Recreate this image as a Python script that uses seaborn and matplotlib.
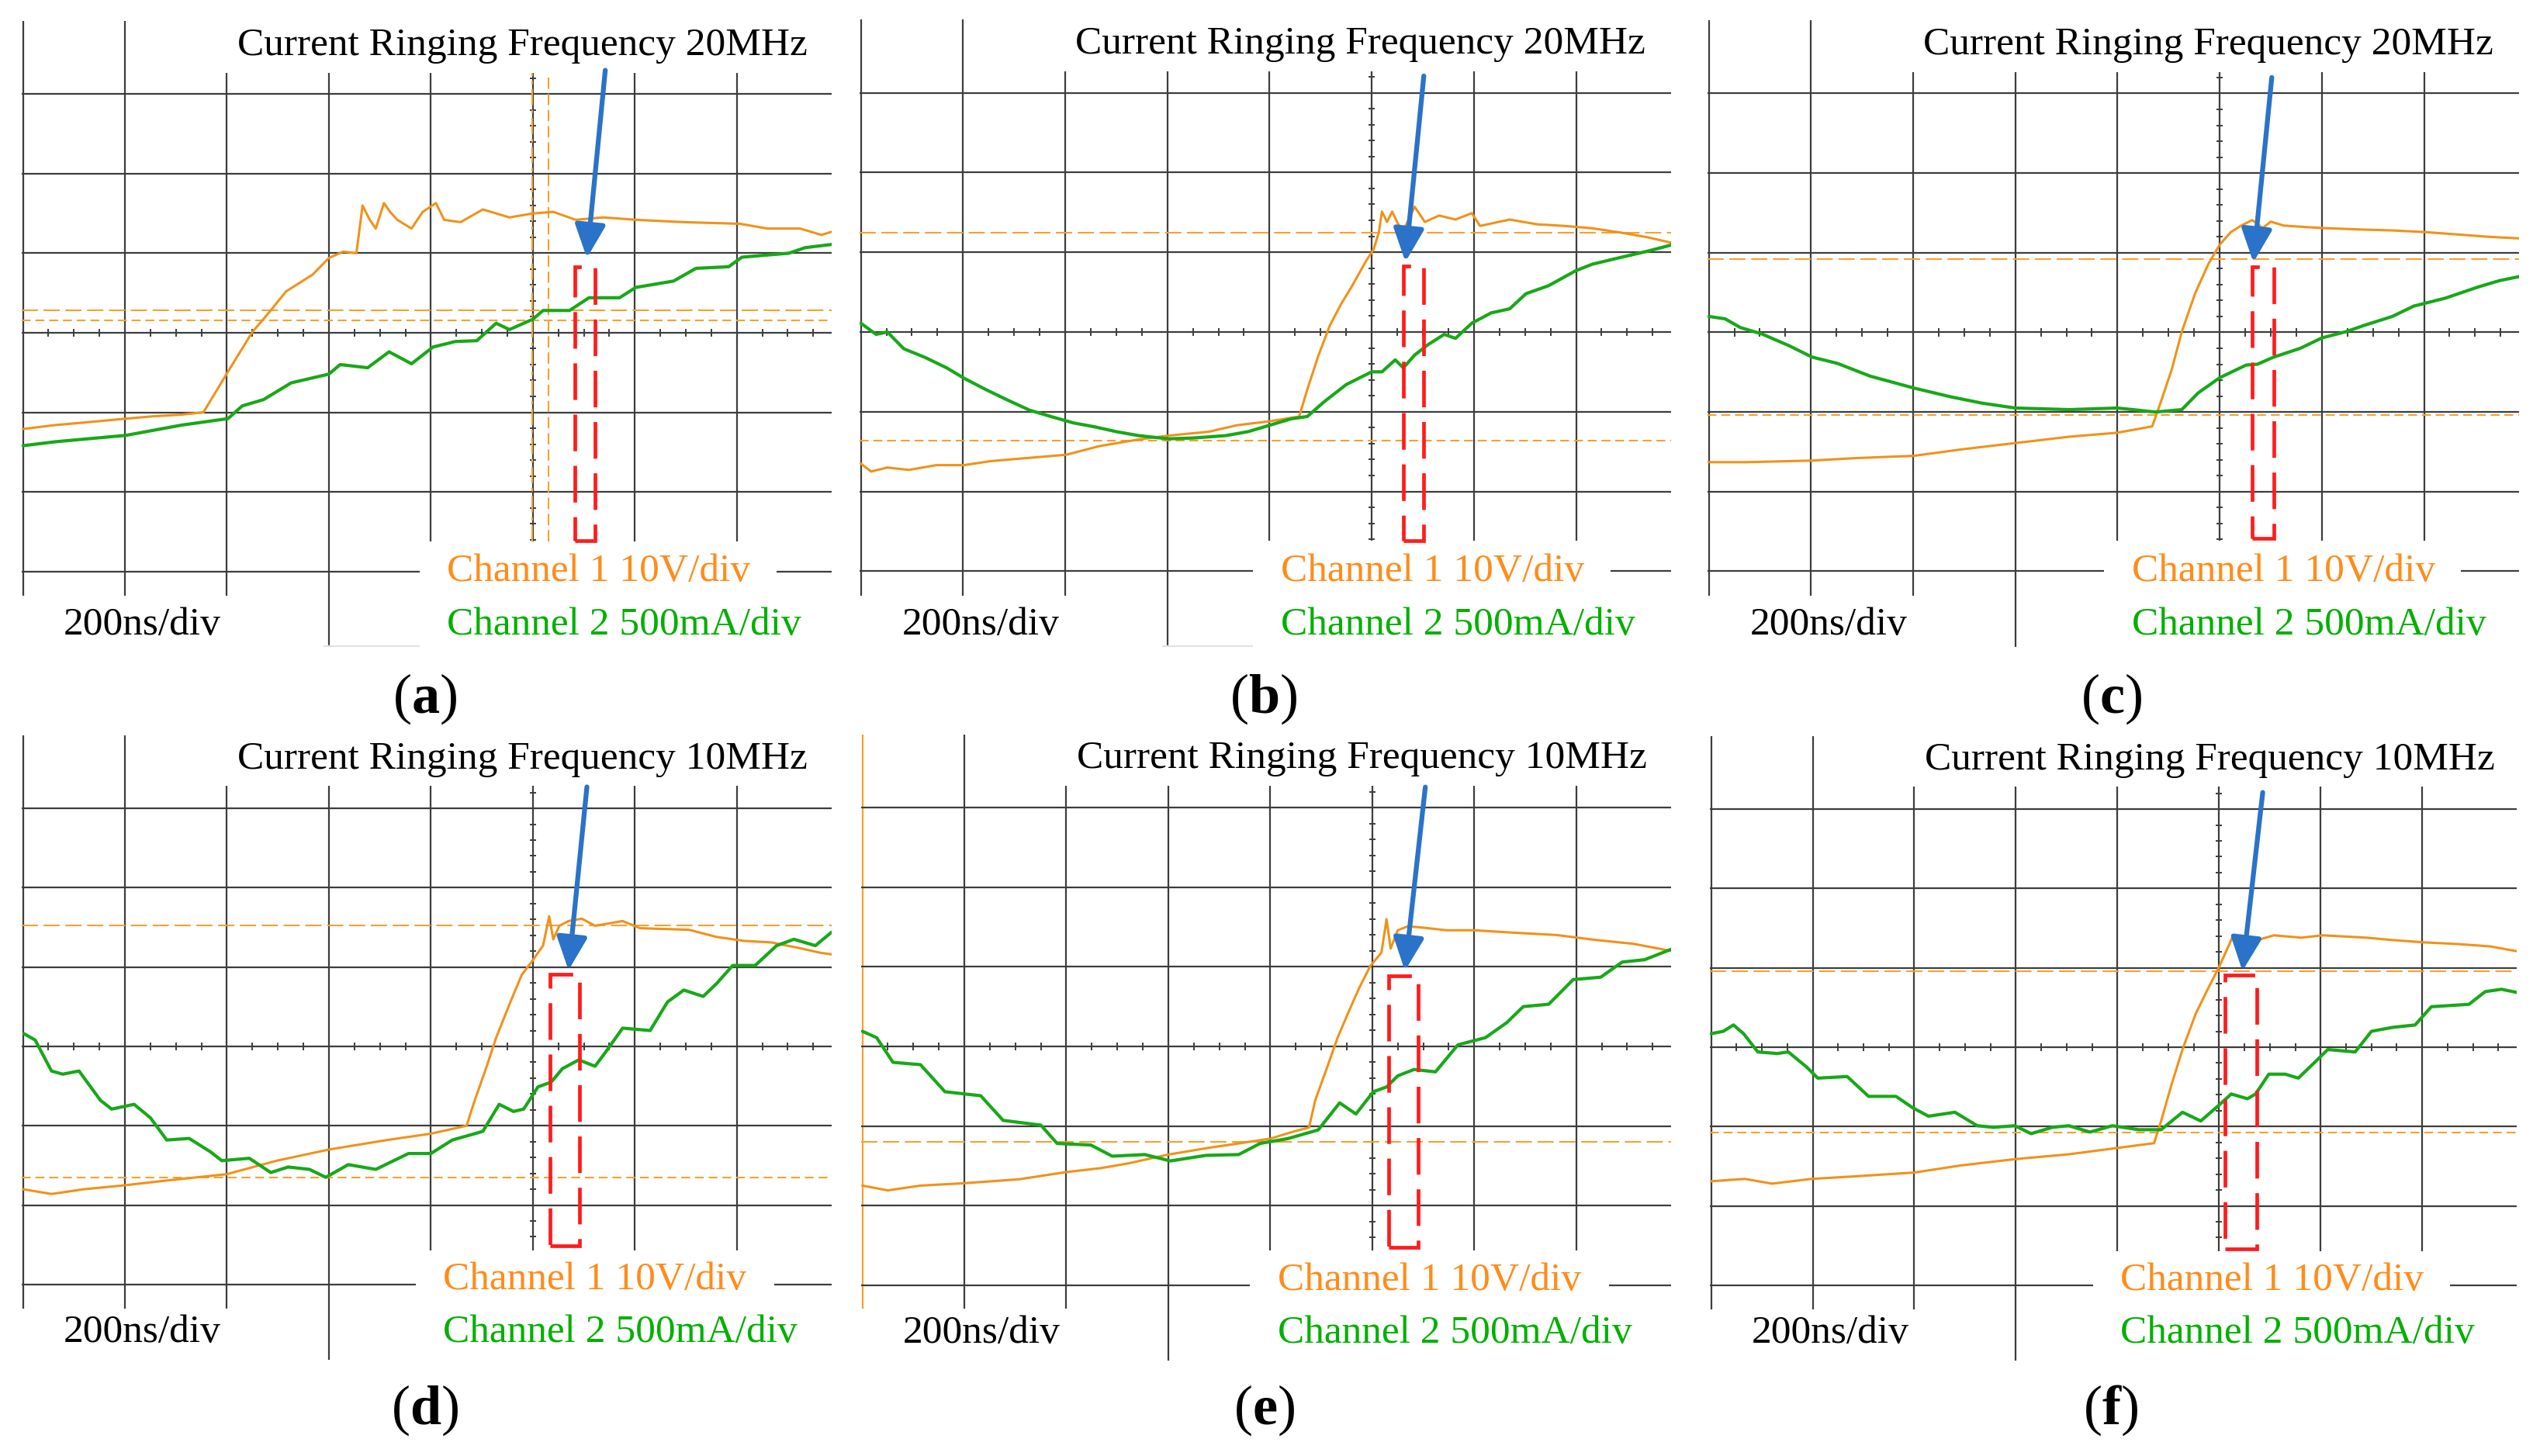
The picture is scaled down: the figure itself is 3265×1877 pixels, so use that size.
import numpy as np
import pandas as pd
import matplotlib
matplotlib.use("Agg")
import matplotlib.pyplot as plt
import seaborn as sns
from matplotlib.patches import Rectangle

sns.set_style("white")
plt.rcParams["font.family"] = ["Liberation Serif", "DejaVu Serif"]
plt.rcParams["mathtext.fontset"] = "custom"
plt.rcParams["mathtext.rm"] = "Liberation Serif"
plt.rcParams["mathtext.bf"] = "Liberation Serif:bold"

# ---------------- data (screen divisions; 200 ns/div, Ch1 10 V/div, Ch2 500 mA/div) ----------
a_ch1_x = [-5.00, -4.68, -4.41, -3.99, -3.72, -3.45, -3.23, -2.99, -2.75, -2.59, -2.42, -2.16, -2.00,
           -1.86, -1.73, -1.67, -1.60, -1.54, -1.46, -1.40, -1.33, -1.19, -1.08, -0.95, -0.87, -0.71,
           -0.49, -0.23, 0.00, 0.20, 0.42, 0.69, 1.01, 1.49, 2.03, 2.30, 2.62, 2.83, 2.93]
a_ch1_y = [-1.21, -1.16, -1.13, -1.08, -1.05, -1.03, -1.00, -0.49, 0.01, 0.25, 0.52, 0.73, 0.94,
           1.02, 1.00, 1.60, 1.42, 1.31, 1.63, 1.52, 1.42, 1.31, 1.52, 1.63, 1.42, 1.39,
           1.55, 1.45, 1.50, 1.52, 1.42, 1.45, 1.42, 1.39, 1.37, 1.31, 1.31, 1.23, 1.27]
a_ch2_x = [-5.00, -4.68, -3.99, -3.44, -2.99, -2.85, -2.64, -2.37, -2.00, -1.89, -1.62, -1.41, -1.19,
           -0.98, -0.76, -0.55, -0.36, -0.23, 0.00, 0.10, 0.36, 0.55, 0.85, 1.01, 1.38, 1.60, 1.92,
           2.05, 2.51, 2.67, 2.93]
a_ch2_y = [-1.42, -1.37, -1.29, -1.16, -1.08, -0.92, -0.84, -0.63, -0.52, -0.40, -0.44, -0.24, -0.39,
           -0.18, -0.11, -0.10, 0.12, 0.04, 0.17, 0.28, 0.28, 0.44, 0.44, 0.57, 0.65, 0.81, 0.83,
           0.95, 1.00, 1.07, 1.11]

b_ch1_x = [-5.00, -4.90, -4.74, -4.53, -4.26, -3.99, -3.73, -3.46, -2.99, -2.66, -2.29, -1.99, -1.59,
           -1.32, -1.00, -0.71, -0.63, -0.52, -0.41, -0.30, -0.20, -0.06, 0.02, 0.07, 0.10, 0.15,
           0.20, 0.26, 0.31, 0.42, 0.52, 0.66, 0.82, 0.98, 1.06, 1.35, 1.62, 1.89, 2.16, 2.42, 2.69, 2.93]
b_ch1_y = [-1.65, -1.75, -1.70, -1.73, -1.67, -1.67, -1.62, -1.59, -1.54, -1.43, -1.35, -1.30, -1.25,
           -1.17, -1.12, -1.06, -0.72, -0.29, 0.08, 0.35, 0.56, 0.88, 1.04, 1.25, 1.51, 1.38,
           1.51, 1.35, 1.27, 1.57, 1.38, 1.46, 1.41, 1.49, 1.33, 1.41, 1.35, 1.33, 1.30, 1.25, 1.19, 1.12]
b_ch2_x = [-5.00, -4.85, -4.74, -4.58, -4.37, -4.16, -3.99, -3.78, -3.57, -3.35, -3.14, -2.92, -2.71,
           -2.50, -2.28, -1.99, -1.75, -1.43, -1.21, -1.00, -0.79, -0.63, -0.47, -0.25, 0.00, 0.10,
           0.23, 0.31, 0.42, 0.55, 0.71, 0.82, 0.98, 1.17, 1.35, 1.51, 1.73, 2.00, 2.16, 2.42, 2.69, 2.93]
b_ch2_y = [0.11, -0.03, 0.00, -0.21, -0.32, -0.45, -0.58, -0.72, -0.85, -0.98, -1.06, -1.14, -1.19,
           -1.25, -1.30, -1.34, -1.33, -1.30, -1.25, -1.17, -1.09, -1.06, -0.88, -0.66, -0.50, -0.50,
           -0.35, -0.45, -0.29, -0.16, -0.03, -0.08, 0.11, 0.24, 0.29, 0.48, 0.58, 0.77, 0.85, 0.93, 1.01, 1.09]

c_ch1_x = [-5.00, -4.63, -3.99, -3.58, -2.99, -2.53, -2.00, -1.47, -1.00, -0.66, -0.58, -0.47, -0.37,
           -0.24, -0.11, 0.00, 0.11, 0.21, 0.32, 0.42, 0.50, 0.63, 1.00, 1.42, 1.69, 2.00, 2.32, 2.63, 2.93]
c_ch1_y = [-1.63, -1.63, -1.61, -1.58, -1.55, -1.47, -1.39, -1.31, -1.26, -1.18, -0.89, -0.47, 0.01,
           0.49, 0.86, 1.10, 1.26, 1.34, 1.41, 1.31, 1.39, 1.34, 1.31, 1.29, 1.28, 1.26, 1.23, 1.20, 1.18]
c_ch2_x = [-5.00, -4.84, -4.69, -4.48, -4.21, -3.99, -3.74, -3.42, -2.99, -2.63, -2.32, -2.00, -1.47,
           -1.00, -0.63, -0.37, -0.21, 0.00, 0.26, 0.37, 0.53, 0.79, 1.00, 1.24, 1.42, 1.69, 1.90,
           2.21, 2.53, 2.74, 2.93]
c_ch2_y = [0.20, 0.17, 0.06, -0.02, -0.17, -0.31, -0.39, -0.55, -0.70, -0.81, -0.89, -0.95, -0.97,
           -0.95, -1.00, -0.97, -0.76, -0.57, -0.41, -0.40, -0.31, -0.20, -0.07, 0.01, 0.09, 0.20, 0.33,
           0.43, 0.57, 0.65, 0.70]

d_ch1_x = [-5.00, -4.72, -4.40, -4.00, -3.59, -3.00, -2.51, -2.00, -1.43, -1.00, -0.65, -0.57, -0.46,
           -0.36, -0.22, -0.11, -0.01, 0.10, 0.16, 0.20, 0.26, 0.35, 0.48, 0.61, 0.88, 1.05, 1.53,
           1.80, 2.07, 2.34, 2.61, 2.82, 2.93]
d_ch1_y = [-1.80, -1.86, -1.80, -1.75, -1.69, -1.61, -1.44, -1.30, -1.18, -1.10, -1.00, -0.68, -0.28,
           0.11, 0.56, 0.90, 1.07, 1.27, 1.64, 1.35, 1.52, 1.58, 1.61, 1.52, 1.58, 1.49, 1.47,
           1.38, 1.33, 1.31, 1.24, 1.18, 1.16]
d_ch2_x = [-4.99, -4.88, -4.72, -4.61, -4.45, -4.24, -4.13, -3.91, -3.75, -3.59, -3.37, -3.16, -3.05,
           -2.78, -2.57, -2.40, -2.19, -2.03, -1.81, -1.54, -1.22, -1.00, -0.79, -0.57, -0.49, -0.33,
           -0.19, -0.09, 0.05, 0.18, 0.29, 0.45, 0.61, 0.72, 0.88, 1.15, 1.32, 1.48, 1.67, 1.80,
           1.96, 2.18, 2.39, 2.56, 2.77, 2.93]
d_ch2_y = [0.16, 0.08, -0.31, -0.35, -0.31, -0.68, -0.79, -0.73, -0.90, -1.18, -1.16, -1.33, -1.44,
           -1.41, -1.59, -1.52, -1.55, -1.65, -1.49, -1.55, -1.35, -1.35, -1.18, -1.10, -1.07, -0.73,
           -0.82, -0.79, -0.51, -0.45, -0.28, -0.17, -0.25, -0.06, 0.23, 0.20, 0.56, 0.71, 0.63, 0.79,
           1.02, 1.02, 1.27, 1.35, 1.27, 1.44]

e_ch1_x = [-5.00, -4.75, -4.43, -4.00, -3.46, -3.00, -2.66, -2.39, -2.00, -1.58, -1.31, -1.00, -0.77,
           -0.62, -0.56, -0.45, -0.34, -0.23, -0.13, -0.02, 0.09, 0.14, 0.18, 0.25, 0.35, 0.52, 0.73,
           1.00, 1.38, 1.81, 2.18, 2.56, 2.93]
e_ch1_y = [-1.75, -1.81, -1.75, -1.72, -1.67, -1.58, -1.53, -1.47, -1.36, -1.27, -1.22, -1.16, -1.07,
           -1.02, -0.68, -0.29, 0.11, 0.44, 0.73, 1.01, 1.18, 1.60, 1.23, 1.46, 1.51, 1.49, 1.46,
           1.46, 1.43, 1.40, 1.34, 1.29, 1.20]
e_ch2_x = [-5.00, -4.86, -4.70, -4.43, -4.19, -3.84, -3.62, -3.25, -3.09, -2.76, -2.55, -2.23, -1.98,
           -1.63, -1.31, -1.10, -0.83, -0.53, -0.32, -0.16, 0.01, 0.14, 0.25, 0.41, 0.62, 0.84, 1.11,
           1.32, 1.48, 1.73, 1.97, 2.24, 2.45, 2.67, 2.93]
e_ch2_y = [0.19, 0.11, -0.20, -0.23, -0.57, -0.62, -0.93, -0.99, -1.22, -1.24, -1.38, -1.36, -1.44,
           -1.37, -1.36, -1.22, -1.16, -1.05, -0.71, -0.85, -0.57, -0.51, -0.37, -0.29, -0.32, 0.02, 0.11,
           0.30, 0.50, 0.53, 0.84, 0.87, 1.06, 1.09, 1.22]

f_ch1_x = [-5.00, -4.67, -4.40, -4.01, -3.61, -3.00, -2.54, -2.00, -1.48, -1.00, -0.64, -0.57, -0.47,
           -0.36, -0.23, -0.10, 0.00, 0.06, 0.14, 0.22, 0.38, 0.54, 0.81, 1.02, 1.45, 1.71, 2.03,
           2.35, 2.67, 2.93]
f_ch1_y = [-1.69, -1.66, -1.72, -1.66, -1.63, -1.58, -1.49, -1.41, -1.35, -1.27, -1.21, -0.93, -0.48,
           -0.03, 0.42, 0.76, 1.01, 1.18, 1.41, 1.32, 1.35, 1.41, 1.38, 1.41, 1.38, 1.35, 1.32,
           1.30, 1.27, 1.21]
f_ch2_x = [-5.00, -4.88, -4.78, -4.68, -4.54, -4.35, -4.24, -4.06, -3.95, -3.66, -3.45, -3.18, -3.02,
           -2.86, -2.60, -2.38, -2.22, -2.01, -1.85, -1.64, -1.48, -1.27, -1.05, -0.79, -0.57, -0.36,
           -0.18, 0.00, 0.12, 0.28, 0.36, 0.49, 0.65, 0.78, 0.91, 1.07, 1.34, 1.50, 1.71, 1.93,
           2.09, 2.46, 2.62, 2.78, 2.93]
f_ch2_y = [0.17, 0.20, 0.28, 0.17, -0.06, -0.08, -0.06, -0.25, -0.39, -0.37, -0.62, -0.62, -0.76,
           -0.87, -0.82, -0.99, -1.01, -0.99, -1.09, -1.01, -0.99, -1.07, -0.99, -1.04, -1.04, -0.82,
           -0.93, -0.73, -0.59, -0.65, -0.59, -0.34, -0.34, -0.39, -0.23, -0.03, -0.06, 0.20, 0.25, 0.28,
           0.51, 0.54, 0.70, 0.73, 0.69]

panel_labels = ["a", "b", "c", "d", "e", "f"]
ringing_freq = ["20MHz", "20MHz", "20MHz", "10MHz", "10MHz", "10MHz"]
ch1_label = "Channel 1 10V/div"
ch2_label = "Channel 2 500mA/div"
time_label = "200ns/div"

# cursor levels (divisions)
cursor_long = [0.28, 1.24, 0.92, 1.52, -1.20, 0.96]
cursor_short = [0.16, -1.36, -1.04, -1.65, None, -1.08]
# highlighted window (x0, x1, y0, y1) and arrow (start -> tip)
red_boxes = [(0.41, 0.61, -2.61, 0.83), (0.31, 0.51, -2.62, 0.83), (0.32, 0.53, -2.59, 0.82),
             (0.17, 0.46, -2.51, 0.91), (0.16, 0.45, -2.53, 0.89), (0.06, 0.37, -2.54, 0.91)]
arrows = [((0.71, 3.30), (0.53, 0.94)), ((0.51, 3.21), (0.33, 0.88)), ((0.51, 3.20), (0.33, 0.88)),
          ((0.53, 3.27), (0.35, 0.96)), ((0.52, 3.26), (0.32, 0.95)), ((0.43, 3.21), (0.23, 0.96))]

traces = [(a_ch1_x, a_ch1_y, a_ch2_x, a_ch2_y), (b_ch1_x, b_ch1_y, b_ch2_x, b_ch2_y),
          (c_ch1_x, c_ch1_y, c_ch2_x, c_ch2_y), (d_ch1_x, d_ch1_y, d_ch2_x, d_ch2_y),
          (e_ch1_x, e_ch1_y, e_ch2_x, e_ch2_y), (f_ch1_x, f_ch1_y, f_ch2_x, f_ch2_y)]

# ---------------- layout ----------------
W, H = 3265, 1877
fig = plt.figure(figsize=(W / 100, H / 100), dpi=100)
fig.patch.set_facecolor("white")

boxes_px = [(28, 27, 1072, 834), (1108, 25, 2154, 834), (2201, 26, 3247, 834),
            (28, 948, 1072, 1753), (1110, 947, 2154, 1754), (2204, 949, 3244, 1754)]
gaps = [(-1.11, 2.39), (-1.16, 2.34), (-1.13, 2.36), (-1.15, 2.37), (-1.20, 2.32), (-1.24, 2.27)]
label_px = [(548, 901), (1629, 901), (2722, 901), (548, 1818), (1630, 1818), (2720, 1818)]

XL, XR, YB, YT = -5.012, 2.93, -3.95, 3.92
GRID = "#3d3d3d"
ORANGE = "#F0921A"
ORANGE_TXT = "#FF8C1A"
CURSOR = "#F6A030"
GREEN = "#18A818"
GREEN_TXT = "#00B000"
RED = "#FF1C1C"
BLUE = "#2A73C8"

for i in range(6):
    x0, y0, x1, y1 = boxes_px[i]
    ax = fig.add_axes([x0 / W, 1 - y1 / H, (x1 - x0) / W, (y1 - y0) / H])
    ax.set_xlim(XL, XR)
    ax.set_ylim(YB, YT)
    ax.axis("off")
    row = i // 3
    title_bot = 3.27 if row == 0 else 3.28
    box_top = -2.62 if row == 0 else -2.57
    bl_top = -3.31 if row == 0 else -3.30
    ch1_base = -3.12 if row == 0 else -3.06
    ch2_base = -3.79 if row == 0 else -3.73
    gl, gr = gaps[i]

    # grid
    for xv in range(-5, 3):
        col = CURSOR if (i == 4 and xv == -5) else GRID
        ax.plot([xv, xv], [YB, YT], color=col, lw=1.6, zorder=1, solid_capstyle="butt")
    for yv in range(-3, 4):
        ax.plot([XL, XR], [yv, yv], color=GRID, lw=1.6, zorder=1, solid_capstyle="butt")
    tx = np.arange(-4.75, 2.9, 0.25)
    ax.vlines(tx, -0.05, 0.05, color=GRID, lw=1.4, zorder=1)
    ty = np.arange(-3.8, 3.81, 0.2)
    ax.hlines(ty, -0.03, 0.03, color=GRID, lw=1.4, zorder=1)
    if row == 0 and i < 2:
        ax.plot([XL, XR], [YB + 0.01, YB + 0.01], color="#e2e2e2", lw=2.5, zorder=1)
    if row == 1 and i < 2:
        ax.plot([XL, XR], [YB + 0.01, YB + 0.01], color="#e2e2e2", lw=2.5, zorder=1)

    # cursors
    ax.plot([XL, XR], [cursor_long[i]] * 2, color=CURSOR, lw=1.5, zorder=2.5,
            linestyle=(0, (10, 3.5)))
    if cursor_short[i] is not None:
        ax.plot([XL, XR], [cursor_short[i]] * 2, color=CURSOR, lw=1.5, zorder=2.5,
                linestyle=(0, (5.5, 3)))
    if i == 0:
        ax.plot([-0.01, -0.01], [box_top, title_bot], color=CURSOR, lw=1.5, zorder=2.5,
                linestyle=(0, (10, 3, 2, 3)))
        ax.plot([0.15, 0.15], [box_top, title_bot], color=CURSOR, lw=1.5, zorder=2.5,
                linestyle=(0, (7, 3)))

    # white label backgrounds
    ax.add_patch(Rectangle((-3.5, title_bot), 7, 1.0, fc="white", ec="none", zorder=2))
    ax.add_patch(Rectangle((XL - 0.2, YB - 0.2), -2.05 - XL + 0.2, bl_top - YB + 0.2,
                           fc="white", ec="none", zorder=2))
    ax.add_patch(Rectangle((gl, bl_top - 0.01), gr - gl, box_top - bl_top + 0.01,
                           fc="white", ec="none", zorder=2))
    ax.add_patch(Rectangle((gl, YB - 0.2), XR + 0.2 - gl, bl_top - YB + 0.2,
                           fc="white", ec="none", zorder=2))

    # traces
    c1x, c1y, c2x, c2y = traces[i]
    df1 = pd.DataFrame({"t": c1x, "v": c1y})
    df2 = pd.DataFrame({"t": c2x, "v": c2y})
    sns.lineplot(data=df1, x="t", y="v", ax=ax, color=ORANGE, lw=2.2, estimator=None,
                 sort=False, legend=False, zorder=3)
    sns.lineplot(data=df2, x="t", y="v", ax=ax, color=GREEN, lw=3.0, estimator=None,
                 sort=False, legend=False, zorder=3.2)
    ax.set_xlim(XL, XR)
    ax.set_ylim(YB, YT)
    ax.axis("off")

    # red window
    bx0, bx1, by0, by1 = red_boxes[i]
    ax.add_patch(Rectangle((bx0, by0), bx1 - bx0, by1 - by0, fill=False, ec=RED, lw=3.4,
                           linestyle=(0, (10, 4)), zorder=4))
    # arrow
    (sx, sy), (ex, ey) = arrows[i]
    ax.annotate("", xy=(ex, ey), xytext=(sx, sy), zorder=6, annotation_clip=False,
                arrowprops=dict(arrowstyle="-|>,head_length=1.3,head_width=0.6", color=BLUE,
                                lw=4.5, shrinkA=0, shrinkB=0, mutation_scale=20))

    # texts
    ax.text(-2.90, 3.49 if row == 0 else 3.50, "Current Ringing Frequency " + ringing_freq[i],
            fontsize=37, color="black", ha="left", va="baseline", zorder=5)
    ax.text(gl + 0.27, ch1_base, ch1_label, fontsize=37, color=ORANGE_TXT, ha="left",
            va="baseline", zorder=5)
    ax.text(gl + 0.27, ch2_base, ch2_label, fontsize=37, color=GREEN_TXT, ha="left",
            va="baseline", zorder=5)
    ax.text(-4.60, ch2_base, time_label, fontsize=37, color="black", ha="left",
            va="baseline", zorder=5)

    lx, ly = label_px[i]
    fig.text(lx / W, 1 - ly / H, "(" + r"$\mathbf{" + panel_labels[i] + "}$" + ")",
             fontsize=52, ha="center", va="center", color="black")

fig.savefig("out.png", dpi=100, facecolor="white")
